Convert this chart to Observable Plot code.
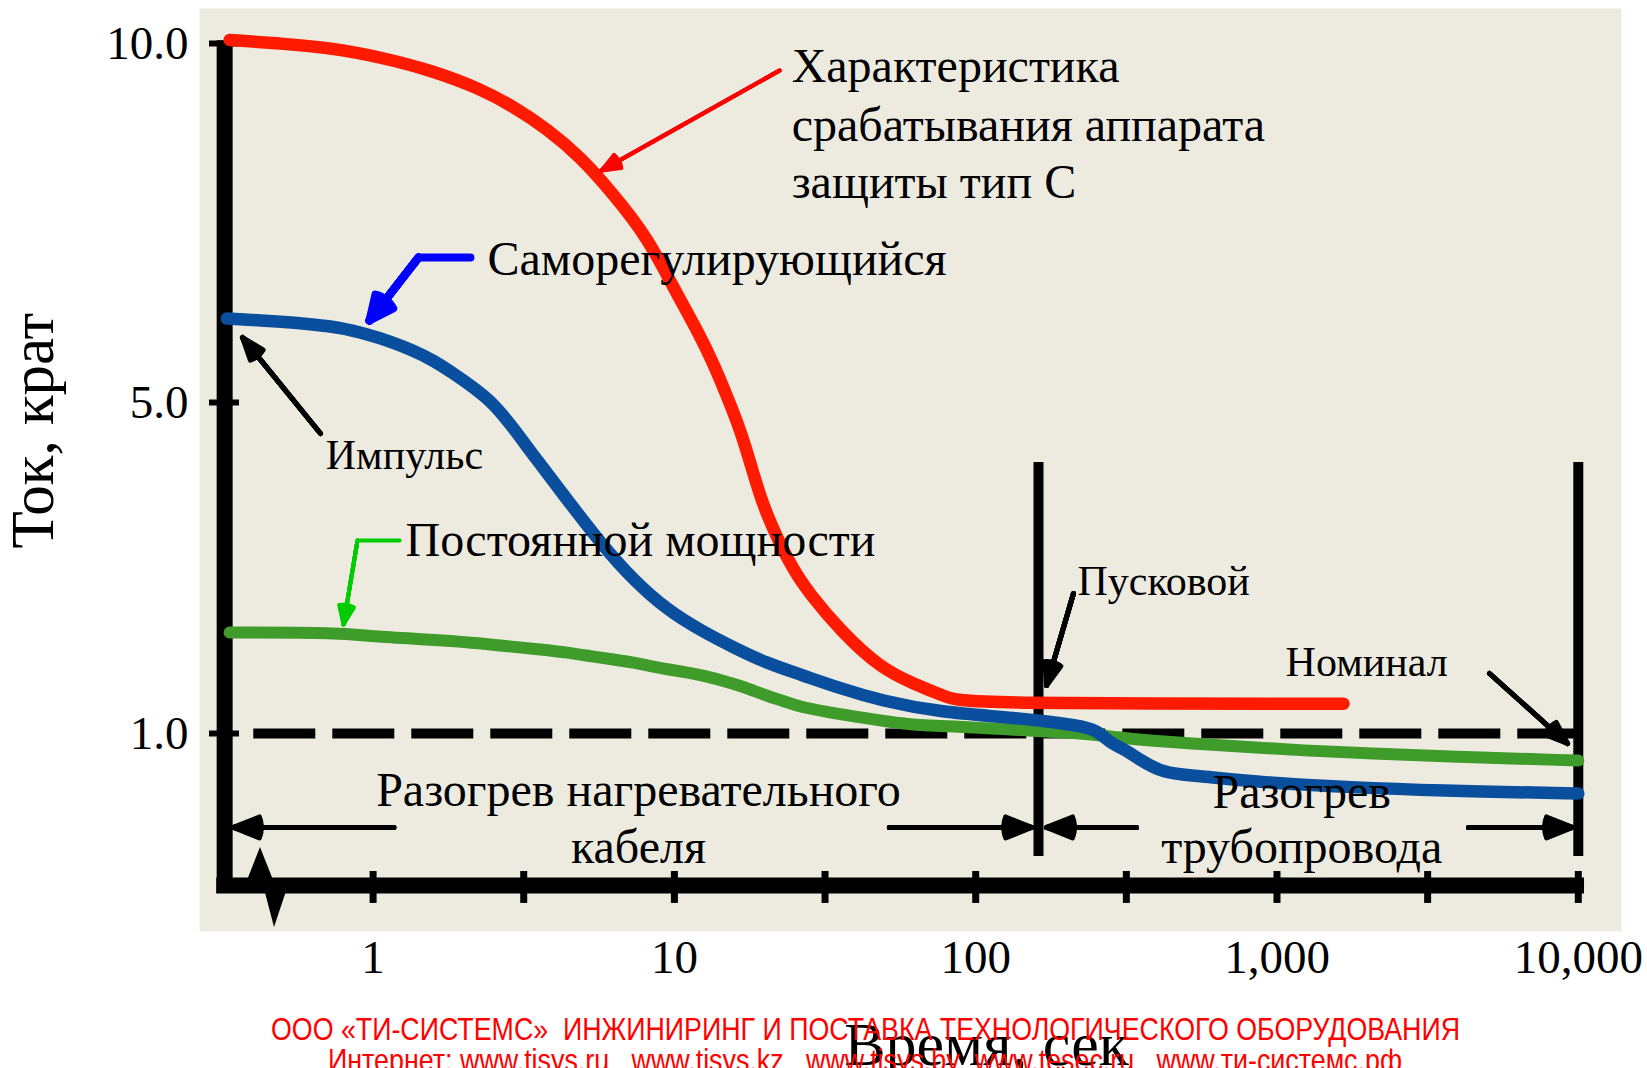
<!DOCTYPE html>
<html><head><meta charset="utf-8">
<script src="https://cdn.jsdelivr.net/npm/d3@7"></script>
<script src="https://cdn.jsdelivr.net/npm/@observablehq/plot@0.6"></script>
<style>
html,body{margin:0;padding:0;background:#ffffff;overflow:hidden;}
#wrap{position:relative;width:1647px;height:1068px;overflow:hidden;}
#chart svg{display:block;}
#foot{position:absolute;left:0;top:0;pointer-events:none;}
</style></head><body>
<div id="wrap"><div id="chart"></div>
<svg id="foot" width="1647" height="1068" xmlns="http://www.w3.org/2000/svg"></svg></div>
<script>
// ---------- data (time in s, current in multiples of nominal) ----------
const redT = [0.334, 0.493, 0.724, 1.058, 1.551, 2.273, 2.924, 3.79, 4.88, 6.28, 8.14, 9.93, 11.93, 13.49, 15.01, 16.58, 17.89, 19.31, 21.33, 24.85, 28.09, 35.6, 48.3, 62.2, 80.6, 92.5, 1662];
const redV = [10.05, 10.0, 9.94, 9.81, 9.63, 9.37, 9.12, 8.81, 8.42, 7.90, 7.30, 6.60, 6.00, 5.54, 5.07, 4.66, 4.26, 3.85, 3.45, 2.97, 2.69, 2.24, 1.79, 1.60, 1.435, 1.36, 1.36];

const blueT = [0.327, 0.493, 0.634, 0.779, 0.958, 1.116, 1.362, 1.587, 1.849, 2.154, 2.509, 2.924, 3.406, 4.42, 5.69, 7.32, 9.49, 12.21, 15.71, 20.37, 26.21, 35.6, 48.3, 76.5, 133.7, 223, 254, 280.5, 310, 344.8, 420.6, 529, 883, 1797, 3312, 10000];
const blueV = [6.17, 6.128, 6.086, 6.045, 5.947, 5.864, 5.724, 5.585, 5.404, 5.209, 4.99, 4.69, 4.36, 3.82, 3.30, 2.85, 2.49, 2.245, 2.04, 1.846, 1.713, 1.544, 1.399, 1.254, 1.193, 1.097, 1.036, 0.934, 0.90, 0.836, 0.737, 0.724, 0.678, 0.645, 0.625, 0.605];

const greenT = [0.334, 0.779, 0.980, 1.516, 2.138, 2.858, 3.594, 4.42, 5.35, 6.28, 7.32, 8.46, 9.56, 11.05, 12.88, 14.78, 16.83, 18.59, 20.53, 23.37, 25.62, 35.6, 48.3, 59.4, 84.4, 148.6, 235, 295.7, 374.8, 516.8, 768.5, 1215, 2060, 3710, 10000];
const greenV = [2.22, 2.22, 2.172, 2.136, 2.10, 2.051, 2.015, 1.979, 1.930, 1.894, 1.858, 1.810, 1.773, 1.737, 1.689, 1.628, 1.568, 1.508, 1.447, 1.387, 1.326, 1.230, 1.157, 1.109, 1.085, 1.036, 1.0, 0.974, 0.954, 0.934, 0.914, 0.888, 0.868, 0.849, 0.822];

// pulse glyph near the time axis (two lobes)
const pulseT = [0.3773, 0.4229, 0.4744, 0.4328, 0.4708, 0.5239];
const pulseV = [0, 0.25, 0, 0, -0.276, 0];
const pulseLobe = ["up", "up", "up", "down", "down", "down"];

// axes / reference lines
const xTickLabels = [1, 10, 100, 1000, 10000];
const xTicksAll = [1, 3.162, 10, 31.62, 100, 316.2, 1000, 3162, 10000];
const yTickLabels = [1, 5, 10];
const axisCornerT = [0.3216];      // vertical axis position
const axisStartT = 0.3027, axisEndT = 10486;
const nominalLevel = [1];
const dashStartT = 0.4018, dashEndT = 10000;
const phaseT = [161.6, 10000];    // Пусковой / end of pipeline warm-up
const phaseTop = 4.275, phaseBottom = 0.19;
const spanLevel = 0.382;

// arrows
const spanArrows = [
  {x1: 1.172, x2: 0.344}, {x1: 51.7, x2: 153.3}, {x1: 341.7, x2: 171.9}, {x1: 4321, x2: 9565}
];
const blackArrows = [
  {x1: 0.6689, y1: 4.625, x2: 0.3686, y2: 5.905},   // Импульс
  {x1: 211.1, y1: 2.692, x2: 171.9, y2: 1.580},     // Пусковой
  {x1: 5074, y1: 1.725, x2: 9209, y2: 0.934}        // Номинал
];
const redArrow = [{x1: 22.34, y1: 9.624, x2: 5.73, y2: 8.231}];
const bluePathT = [2.105, 1.415, 0.9729];
const bluePathV = [7.019, 7.019, 6.142];
const greenPathT = [1.224, 0.8875, 0.7976];
const greenPathV = [3.332, 3.332, 2.317];

// labels (baseline positioned)
const labelsStart = [
  {text: "Характеристика", t: 24.5, v: 9.457, size: 48},
  {text: "срабатывания аппарата", t: 24.5, v: 8.649, size: 48},
  {text: "защиты тип С", t: 24.5, v: 7.855, size: 48},
  {text: "Саморегулирующийся", t: 2.397, v: 6.769, size: 48},
  {text: "Импульс", t: 0.6966, v: 4.202, size: 42},
  {text: "Постоянной мощности", t: 1.281, v: 3.151, size: 48},
  {text: "Пусковой", t: 217.7, v: 2.668, size: 42},
  {text: "Номинал", t: 1068, v: 1.689, size: 42}
];
const labelsMiddle = [
  {text: "Разогрев нагревательного", t: 7.60, v: 0.526, size: 48},
  {text: "кабеля", t: 7.60, v: 0.145, size: 48},
  {text: "Разогрев", t: 1208, v: 0.513, size: 48},
  {text: "трубопровода", t: 1208, v: 0.145, size: 48},
  {text: "Время, сек", t: 108.6, v: -1.184, size: 62}
];
const yTitle = [{text: "Ток, крат", t: 0.0863, v: 4.66, size: 61}];

const footerLines = [
  "ООО «ТИ-СИСТЕМС»  ИНЖИНИРИНГ И ПОСТАВКА ТЕХНОЛОГИЧЕСКОГО ОБОРУДОВАНИЯ",
  "Интернет: www.tisys.ru   www.tisys.kz   www.tisys.by  www.tesec.ru   www.ти-системс.рф"
];

// ---------- styles ----------
const panelColor = "#EDEBE0";
const cRed = "#FF1A00", cBlue = "#0A4E9E", cGreen = "#3F9C2B";

const series = (T, V) => T.map((t, i) => ({t, v: V[i]}));
const red = series(redT, redV);
const blue = series(blueT, blueV);
const green = series(greenT, greenV);
const pulse = pulseT.map((t, i) => ({t, v: pulseV[i], lobe: pulseLobe[i]}));

function fan(data, stroke, sw, head, maxAngle) {
  const out = [];
  for (const k of [1, 0.75, 0.5, 0.25]) {
    out.push(Plot.arrow(data, {x1: "x1", y1: "y1", x2: "x2", y2: "y2", stroke, strokeWidth: sw,
      headAngle: maxAngle * k, headLength: head * 1.5 / sw}));
  }
  return out;
}
const spanData = spanArrows.map(d => ({...d, y1: spanLevel, y2: spanLevel}));
const bluePath = series(bluePathT, bluePathV);
const greenPath = series(greenPathT, greenPathV);
const blueHead = [{x1: bluePathT[1], y1: bluePathV[1], x2: bluePathT[2], y2: bluePathV[2]}];
const greenHead = [{x1: greenPathT[1], y1: greenPathV[1], x2: greenPathT[2], y2: greenPathV[2]}];

const chart = Plot.plot({
  width: 1647, height: 1068,
  marginLeft: 199, marginRight: 26, marginTop: 8, marginBottom: 137,
  x: {type: "log", domain: [1, 10000], range: [372.6, 1577.8]},
  y: {type: "linear", domain: [0, 1, 5, 10], range: [885, 733, 402, 43]},
  style: {fontFamily: "'Liberation Serif', 'Times New Roman', serif", background: "transparent", color: "black", overflow: "visible"},
  marks: [
    Plot.frame({fill: panelColor, stroke: "none"}),
    // axis lines
    Plot.ruleX(axisCornerT, {y1: -0.053, y2: 10.04, stroke: "black", strokeWidth: 16}),
    Plot.ruleY([0], {x1: axisStartT, x2: axisEndT, stroke: "black", strokeWidth: 16}),
    Plot.ruleY(yTickLabels, {x1: 0.2864, x2: 0.3602, stroke: "black", strokeWidth: 6}),
    Plot.ruleX(xTicksAll, {y1: 0.092, y2: -0.118, stroke: "black", strokeWidth: 7}),
    Plot.areaY(pulse, {x: "t", y: "v", z: "lobe", fill: "black", curve: "linear"}),
    Plot.axisX({ticks: xTickLabels, tickFormat: d3.format(","), tickSize: 0, tickPadding: 8, fontSize: 47, anchor: "bottom", label: null}),
    Plot.axisY({ticks: yTickLabels, tickFormat: d3.format(".1f"), tickSize: 0, tickPadding: 11, fontSize: 47, anchor: "left", label: null}),
    // reference lines
    Plot.ruleY(nominalLevel, {x1: dashStartT, x2: dashEndT, stroke: "black", strokeWidth: 10, strokeDasharray: "62 17"}),
    Plot.ruleX(phaseT, {y1: phaseTop, y2: phaseBottom, stroke: "black", strokeWidth: 10}),
    // curves
    Plot.line(green, {x: "t", y: "v", stroke: cGreen, strokeWidth: 12, curve: "basis"}),
    Plot.line(blue, {x: "t", y: "v", stroke: cBlue, strokeWidth: 12.5, curve: "basis"}),
    Plot.line(red, {x: "t", y: "v", stroke: cRed, strokeWidth: 12.5, curve: "basis"}),
    // arrows
    ...fan(spanData, "black", 5, 28, 44),
    ...fan(blackArrows, "black", 5, 24, 40),
    ...fan(redArrow, "#FF0000", 4, 20, 44),
    Plot.line(bluePath, {x: "t", y: "v", stroke: "#0000FF", strokeWidth: 8, strokeLinejoin: "miter"}),
    ...fan(blueHead, "#0000FF", 8, 30, 50),
    Plot.line(greenPath, {x: "t", y: "v", stroke: "#00CC00", strokeWidth: 4, strokeLinejoin: "miter"}),
    ...fan(greenHead, "#00CC00", 4, 20, 44),
    // labels
    Plot.text(labelsStart, {x: "t", y: "v", text: "text", fontSize: "size", textAnchor: "start", lineAnchor: "bottom", fill: "black"}),
    Plot.text(labelsMiddle, {x: "t", y: "v", text: "text", fontSize: "size", textAnchor: "middle", lineAnchor: "bottom", fill: "black"}),
    Plot.text(yTitle, {x: "t", y: "v", text: "text", fontSize: "size", textAnchor: "middle", lineAnchor: "bottom", rotate: -90, fill: "black"})
  ]
});
document.getElementById("chart").appendChild(chart);

// footer caption (red, condensed)
const foot = d3.select("#foot");
const footPos = [{x: 271, y: 1040, len: 1189}, {x: 328, y: 1071, len: 1074}];
footerLines.forEach((s, i) => {
  foot.append("text").attr("x", footPos[i].x).attr("y", footPos[i].y)
    .attr("textLength", footPos[i].len).attr("lengthAdjust", "spacingAndGlyphs")
    .attr("font-family", "'Liberation Sans', Arial, sans-serif").attr("font-size", 32)
    .attr("fill", "#FF0000").attr("xml:space", "preserve").style("white-space", "pre").text(s);
});
</script>
</body></html>
